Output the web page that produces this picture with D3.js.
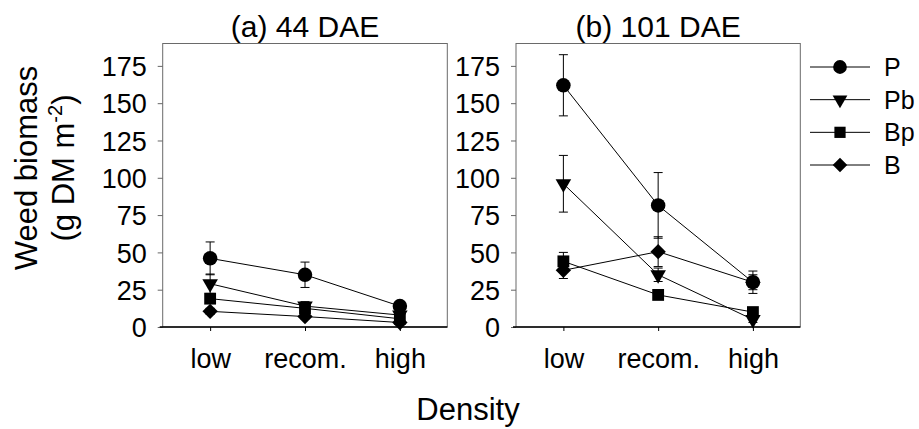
<!DOCTYPE html>
<html>
<head>
<meta charset="utf-8">
<script src="https://cdn.jsdelivr.net/npm/d3@7"></script>
<style>
  body { margin: 0; background: #fff; }
  text { font-family: "Liberation Sans", Arial, sans-serif; fill: #000; }
</style>
</head>
<body>
<script>
const categories = ["low", "recom.", "high"];
const seriesNames = ["P", "Pb", "Bp", "B"];
const yTicks = [0, 25, 50, 75, 100, 125, 150, 175];

// (a) 44 DAE
const dae44 = {
  P:  [46, 35, 14],
  Pb: [29, 14, 8],
  Bp: [19, 12.5, 5.5],
  B:  [10.5, 7, 3]
};
const dae44Err = {
  P:  [11, 8.5, 2.5],
  Pb: [6.5, 3, 1.5],
  Bp: [3, 2, 1.5],
  B:  [2, 1.5, 1]
};

// (b) 101 DAE
const dae101 = {
  P:  [162, 81.5, 30],
  Pb: [96, 35, 5],
  Bp: [44, 21.5, 10],
  B:  [38, 50.5, 30]
};
const dae101Err = {
  P:  [20.5, 22, 7.5],
  Pb: [19, 4.5, 2],
  Bp: [6, 2, 2],
  B:  [5.5, 10, 5]
};

const W = 919, H = 429;
const plotTop = 43.5, plotBottom = 327;

const svg = d3.select("body").append("svg")
  .attr("width", W)
  .attr("height", H);

const y = d3.scaleLinear().domain([0, 190]).range([plotBottom, plotTop]);

const shapes = {
  P:  {type: d3.symbolCircle, size: 165, rot: 0},
  Pb: {type: d3.symbolTriangle, size: 105, rot: 180},
  Bp: {type: d3.symbolSquare, size: 140, rot: 0},
  B:  {type: d3.symbolSquare, size: 118, rot: 45}
};

function drawPanel(x0, x1, title, vals, errs) {
  const x = d3.scalePoint().domain(categories).range([x0, x1]).padding(0.5);
  const g = svg.append("g");

  // frame
  g.append("rect")
    .attr("x", x0).attr("y", plotTop)
    .attr("width", x1 - x0).attr("height", plotBottom - plotTop)
    .attr("fill", "none").attr("stroke", "#6a6a6a").attr("stroke-width", 1);

  // y axis
  const ya = g.append("g")
    .attr("transform", `translate(${x0},0)`)
    .call(d3.axisLeft(y).tickValues(yTicks).tickSize(5).tickPadding(11));
  ya.select(".domain").remove();
  ya.selectAll(".tick line").attr("stroke", "#666");
  ya.selectAll("text").style("font-size", "27px").attr("dy", "0.36em");

  // x axis
  const xa = g.append("g")
    .attr("transform", `translate(0,${plotBottom})`)
    .call(d3.axisBottom(x).tickSize(4).tickPadding(18));
  xa.select(".domain").attr("d", `M${x0 - 3},0H${x1}`).attr("stroke", "#000").attr("stroke-width", 1.6);
  xa.selectAll(".tick line").attr("stroke", "#000");
  xa.selectAll("text").style("font-size", "27px");

  // title
  g.append("text")
    .attr("x", (x0 + x1) / 2).attr("y", 37)
    .attr("text-anchor", "middle")
    .style("font-size", "30px")
    .text(title);

  const line = d3.line().x((d, i) => x(categories[i])).y(d => y(d));

  seriesNames.forEach(s => {
    g.append("path")
      .datum(vals[s])
      .attr("d", line)
      .attr("fill", "none").attr("stroke", "#000").attr("stroke-width", 1);

    vals[s].forEach((v, i) => {
      const cx = x(categories[i]);
      const e = errs[s][i];
      g.append("path")
        .attr("d", `M${cx},${y(v - e)}V${y(v + e)}M${cx - 4.5},${y(v + e)}H${cx + 4.5}M${cx - 4.5},${y(v - e)}H${cx + 4.5}`)
        .attr("stroke", "#000").attr("stroke-width", 1).attr("fill", "none");
    });
  });

  seriesNames.forEach(s => {
    const sh = shapes[s];
    g.selectAll(null)
      .data(vals[s])
      .enter()
      .append("path")
      .attr("d", d3.symbol().type(sh.type).size(sh.size))
      .attr("transform", (d, i) => `translate(${x(categories[i])},${y(d)}) rotate(${sh.rot})`)
      .attr("fill", "#000");
  });
}

drawPanel(162.7, 447.3, "(a) 44 DAE", dae44, dae44Err);
drawPanel(516, 800.3, "(b) 101 DAE", dae101, dae101Err);

// legend
const legendY = d3.scalePoint().domain(seriesNames).range([67, 165]);
const lg = svg.append("g");
seriesNames.forEach(s => {
  const ly = legendY(s);
  const sh = shapes[s];
  lg.append("line")
    .attr("x1", 810).attr("x2", 870).attr("y1", ly).attr("y2", ly)
    .attr("stroke", "#000").attr("stroke-width", 1);
  lg.append("path")
    .attr("d", d3.symbol().type(sh.type).size(sh.size * 0.9)())
    .attr("transform", `translate(840,${ly}) rotate(${sh.rot})`)
    .attr("fill", "#000");
  lg.append("text")
    .attr("x", 884).attr("y", ly)
    .attr("dy", "0.36em")
    .style("font-size", "25px")
    .text(s);
});

// y title
const yt = svg.append("text")
  .attr("transform", "translate(37,168) rotate(-90)")
  .attr("text-anchor", "middle")
  .style("font-size", "31px");
yt.append("tspan").attr("x", 0).attr("dy", 0).text("Weed biomass");
const t2 = yt.append("tspan").attr("x", 0).attr("dy", 37);
t2.append("tspan").text("(g DM m");
t2.append("tspan").attr("dy", -12).style("font-size", "20px").text("-2");
t2.append("tspan").attr("dy", 12).text(")");

// x title
svg.append("text")
  .attr("x", 468).attr("y", 420)
  .attr("text-anchor", "middle")
  .style("font-size", "31px")
  .text("Density");
</script>
</body>
</html>
